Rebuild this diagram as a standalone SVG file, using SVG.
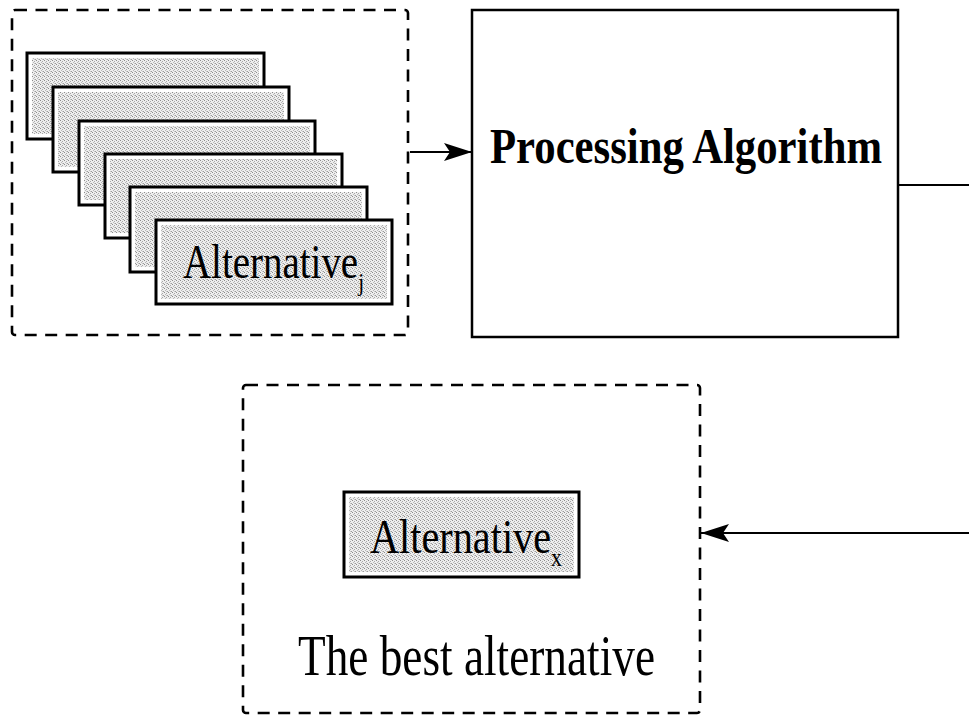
<svg xmlns="http://www.w3.org/2000/svg" width="969" height="717" viewBox="0 0 969 717">
  <defs>
    <pattern id="stipple" width="4" height="4" patternUnits="userSpaceOnUse">
      <rect width="4" height="4" fill="#eeeeee"/>
      <rect x="0" y="0" width="1" height="1" fill="#8c8c8c"/>
      <rect x="2" y="1" width="1" height="1" fill="#a8a8a8"/>
      <rect x="1" y="2" width="1" height="1" fill="#b8b8b8"/>
      <rect x="3" y="3" width="1" height="1" fill="#9c9c9c"/>
      <rect x="2" y="3" width="1" height="1" fill="#c8c8c8"/>
    </pattern>
    <marker id="arrow" viewBox="0 0 28 18" refX="28" refY="9" markerWidth="28" markerHeight="18" markerUnits="userSpaceOnUse" orient="auto">
      <path d="M0,0 L28,9 L0,18 L6,9 Z" fill="#000"/>
    </marker>
  </defs>
  <style>
    .dash { fill: none; stroke: #000; stroke-width: 2.6; stroke-dasharray: 12 8.5; }
    .card { fill: #fff; stroke: #000; stroke-width: 3; }
    .fillin { fill: url(#stipple); }
    .box { fill: #fff; stroke: #000; stroke-width: 2.5; }
    .wire { fill: none; stroke: #000; stroke-width: 2; }
    .serif { font-family: "Liberation Serif", "Times New Roman", serif; fill: #000; }
  </style>

  <rect width="969" height="717" fill="#fff"/>

  <!-- set of candidate alternatives -->
  <g id="alternatives">
    <rect class="dash" x="12" y="10" width="396" height="325" rx="3"/>
    <g id="card1"><rect class="card" x="27" y="53" width="237" height="86"/><rect class="fillin" x="32" y="58" width="227" height="76"/></g>
    <g id="card2"><rect class="card" x="53" y="87" width="236" height="85"/><rect class="fillin" x="58" y="92" width="226" height="75"/></g>
    <g id="card3"><rect class="card" x="79" y="121" width="236" height="84"/><rect class="fillin" x="84" y="126" width="226" height="74"/></g>
    <g id="card4"><rect class="card" x="105" y="154" width="237" height="84"/><rect class="fillin" x="110" y="159" width="227" height="74"/></g>
    <g id="card5"><rect class="card" x="130" y="187" width="237" height="85"/><rect class="fillin" x="135" y="192" width="227" height="75"/></g>
    <g id="card6">
      <rect class="card" x="156" y="220" width="236" height="84"/>
      <rect class="fillin" x="161" y="225" width="226" height="74"/>
      <text class="serif" x="183" y="278" font-size="48" textLength="181" lengthAdjust="spacingAndGlyphs">Alternative<tspan dy="13" font-size="26">j</tspan></text>
    </g>
  </g>

  <!-- processing block -->
  <g id="processing">
    <rect class="box" x="472" y="10" width="426" height="327"/>
    <text class="serif" x="490" y="163" font-size="50" font-weight="bold" textLength="392" lengthAdjust="spacingAndGlyphs">Processing Algorithm</text>
  </g>

  <!-- selected alternative -->
  <g id="best">
    <rect class="dash" x="243" y="385" width="457" height="328" rx="3"/>
    <g id="cardx">
      <rect class="card" x="344" y="492" width="235" height="85"/>
      <rect class="fillin" x="349" y="497" width="225" height="75"/>
      <text class="serif" x="370" y="553" font-size="48" textLength="192" lengthAdjust="spacingAndGlyphs">Alternative<tspan dy="13" font-size="26">x</tspan></text>
    </g>
    <text class="serif" x="298" y="675" font-size="57" textLength="357" lengthAdjust="spacingAndGlyphs">The best alternative</text>
  </g>

  <!-- connectors -->
  <g id="connectors">
    <line class="wire" x1="410" y1="152" x2="472" y2="152" marker-end="url(#arrow)"/>
    <line class="wire" x1="898" y1="185" x2="969" y2="185"/>
    <line class="wire" x1="969" y1="533" x2="701" y2="533" marker-end="url(#arrow)"/>
  </g>
</svg>
